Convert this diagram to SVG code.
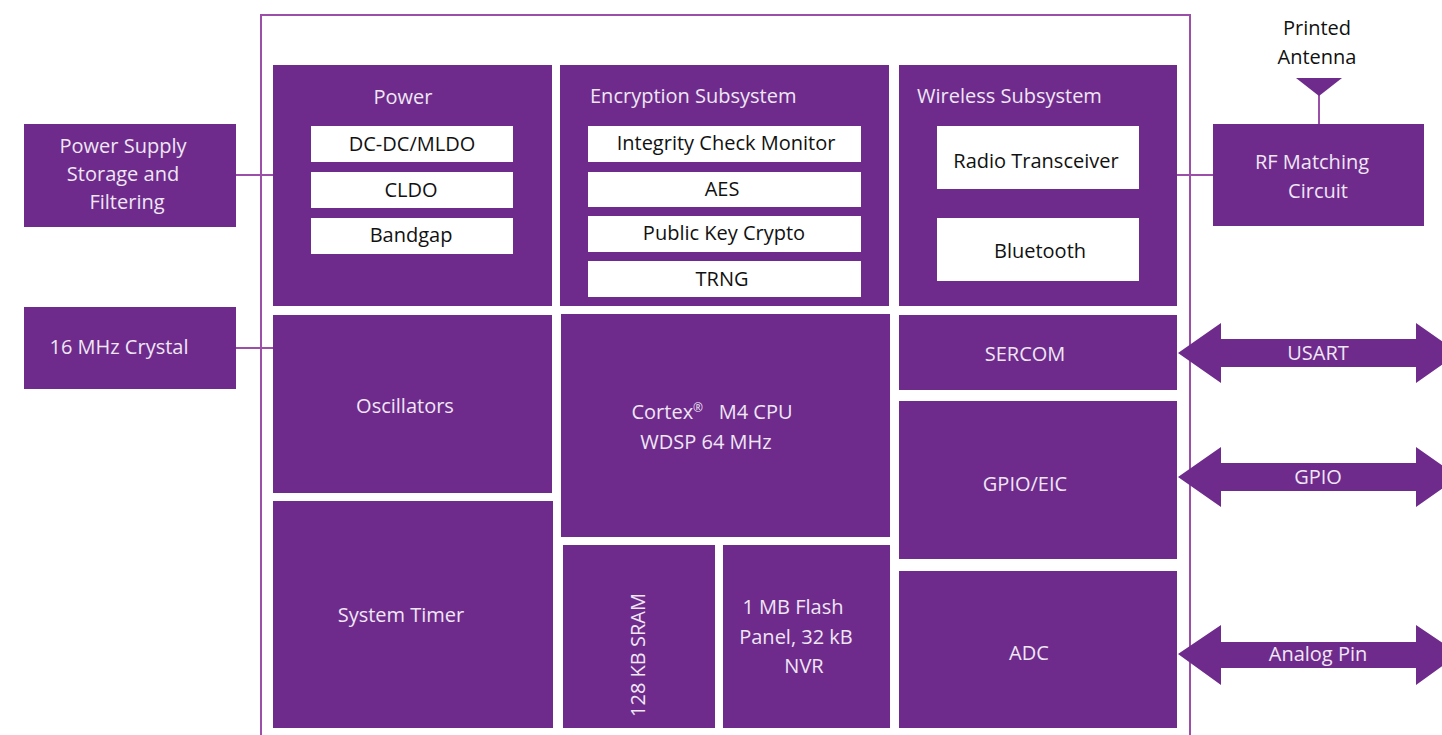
<svg xmlns="http://www.w3.org/2000/svg" width="1442" height="735" viewBox="0 0 1442 735">
<style>
.blk{fill:#6e2b8c}
.wb{fill:#ffffff}
.lt{font-family:"Open Sans","Liberation Sans",sans-serif;font-size:20px;fill:#efe6f4;text-anchor:middle}
.dt{font-family:"Open Sans","Liberation Sans",sans-serif;font-size:20px;fill:#111111;text-anchor:middle}
.st{text-anchor:start}
.ln{stroke:#9b4fa8;stroke-width:2;fill:none}
</style>
<rect width="1442" height="735" fill="#ffffff"/>
<g id="connectors">
<path class="ln" d="M261,735 V15 H1190 V735"/>
<line class="ln" x1="236" y1="175" x2="273" y2="175"/>
<line class="ln" x1="236" y1="348" x2="273" y2="348"/>
<line class="ln" x1="1177" y1="175" x2="1213" y2="175"/>
<line class="ln" x1="1319" y1="92" x2="1319" y2="124"/>
</g>
<g id="power-supply"><rect class="blk" x="24" y="124" width="212" height="103"/>
<text class="lt" x="123" y="153">Power Supply</text><text class="lt" x="123" y="181">Storage and</text><text class="lt" x="127" y="209">Filtering</text></g>
<g id="crystal"><rect class="blk" x="24" y="307" width="212" height="82"/><text class="lt" x="119" y="354">16 MHz Crystal</text></g>
<g id="power"><rect class="blk" x="273" y="65" width="279" height="241"/>
<text class="lt" x="403" y="104">Power</text>
<rect class="wb" x="311" y="126" width="202" height="36"/><text class="dt" x="412" y="151">DC-DC/MLDO</text>
<rect class="wb" x="311" y="172" width="202" height="36"/><text class="dt" x="411" y="197">CLDO</text>
<rect class="wb" x="311" y="218" width="202" height="36"/><text class="dt" x="411" y="242">Bandgap</text></g>
<g id="encryption"><rect class="blk" x="560" y="65" width="329" height="241"/>
<text class="lt st" x="590" y="103">Encryption Subsystem</text>
<rect class="wb" x="588" y="126" width="273" height="36"/><text class="dt" x="726" y="150">Integrity Check Monitor</text>
<rect class="wb" x="588" y="172" width="273" height="35"/><text class="dt" x="722" y="196">AES</text>
<rect class="wb" x="588" y="216" width="273" height="36"/><text class="dt" x="724" y="240">Public Key Crypto</text>
<rect class="wb" x="588" y="261" width="273" height="36"/><text class="dt" x="722" y="286">TRNG</text></g>
<g id="wireless"><rect class="blk" x="899" y="65" width="278" height="241"/>
<text class="lt st" x="917" y="103">Wireless Subsystem</text>
<rect class="wb" x="937" y="126" width="202" height="63"/><text class="dt" x="1036" y="168">Radio Transceiver</text>
<rect class="wb" x="937" y="218" width="202" height="63"/><text class="dt" x="1040" y="258">Bluetooth</text></g>
<g id="rf-matching"><rect class="blk" x="1213" y="124" width="211" height="102"/>
<text class="lt" x="1312" y="169">RF Matching</text><text class="lt" x="1318" y="198">Circuit</text></g>
<g id="antenna"><polygon points="1296,78 1342,78 1319,96" fill="#6e2b8c"/>
<text class="dt" x="1317" y="35">Printed</text><text class="dt" x="1317" y="64">Antenna</text></g>
<g id="oscillators"><rect class="blk" x="273" y="315" width="279" height="178"/><text class="lt" x="405" y="413">Oscillators</text></g>
<g id="system-timer"><rect class="blk" x="273" y="501" width="280" height="227"/><text class="lt" x="401" y="622">System Timer</text></g>
<g id="cpu"><rect class="blk" x="561" y="314" width="329" height="223"/>
<text class="lt" x="712" y="419" xml:space="preserve">Cortex<tspan font-size="12" dy="-7">®</tspan><tspan dy="7">   M4 CPU</tspan></text>
<text class="lt" x="706" y="449">WDSP 64 MHz</text></g>
<g id="sram"><rect class="blk" x="563" y="545" width="152" height="183"/>
<text class="lt" transform="translate(645,655) rotate(-90)" x="0" y="0">128 KB SRAM</text></g>
<g id="flash"><rect class="blk" x="723" y="545" width="167" height="183"/>
<text class="lt" x="793" y="614">1 MB Flash</text><text class="lt" x="796" y="644">Panel, 32 kB</text><text class="lt" x="804" y="673">NVR</text></g>
<g id="sercom"><rect class="blk" x="899" y="315" width="278" height="75"/><text class="lt" x="1025" y="361">SERCOM</text></g>
<g id="gpio-eic"><rect class="blk" x="899" y="401" width="278" height="158"/><text class="lt" x="1025" y="491">GPIO/EIC</text></g>
<g id="adc"><rect class="blk" x="899" y="571" width="278" height="157"/><text class="lt" x="1029" y="660">ADC</text></g>
<g id="usart-arrow"><polygon class="blk" points="1178,353 1221,323 1221,339 1416,339 1416,323 1459,353 1416,383 1416,367 1221,367 1221,383"/><text class="lt" x="1318" y="360">USART</text></g>
<g id="gpio-arrow"><polygon class="blk" points="1178,477 1221,447 1221,463 1416,463 1416,447 1459,477 1416,507 1416,491 1221,491 1221,507"/><text class="lt" x="1318" y="484">GPIO</text></g>
<g id="analog-arrow"><polygon class="blk" points="1178,654 1221,625 1221,642 1416,642 1416,625 1459,654 1416,685 1416,668 1221,668 1221,685"/><text class="lt" x="1318" y="661">Analog Pin</text></g>
</svg>
